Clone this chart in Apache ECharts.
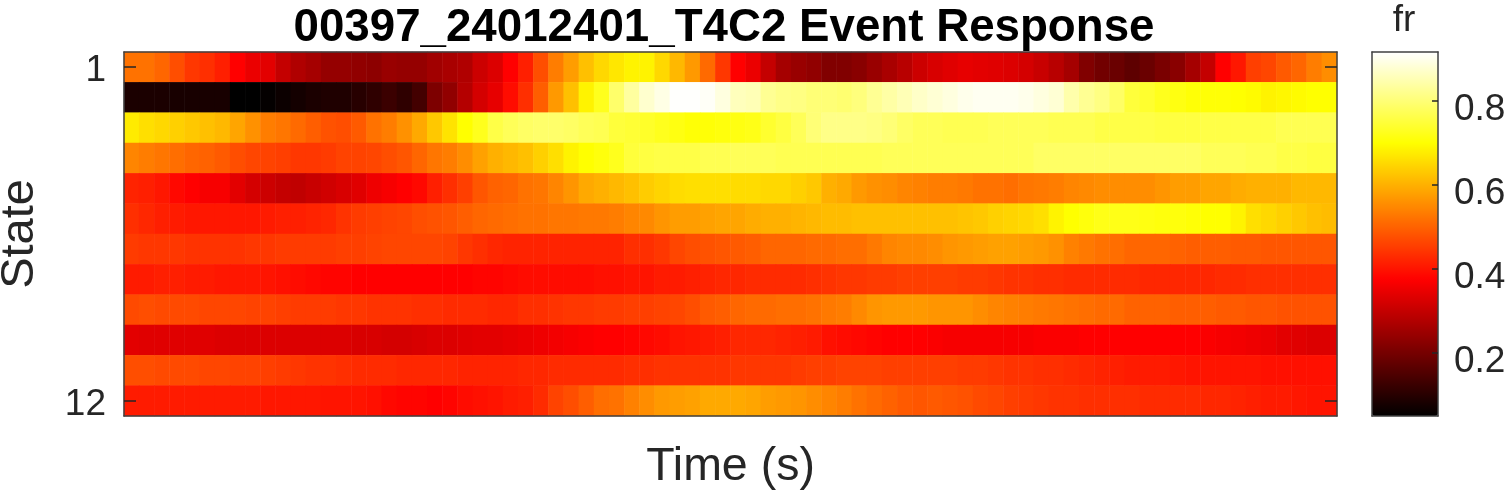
<!DOCTYPE html>
<html><head><meta charset="utf-8">
<style>html,body{margin:0;padding:0;background:#fff}#c{width:1507px;height:492px}</style>
<script src="https://cdn.jsdelivr.net/npm/echarts@6/dist/echarts.min.js"></script>
</head><body><div id="c"></div>
<script>
const stateLabels=['1','2','3','4','5','6','7','8','9','10','11','12'];
const colorbarTicks=[0.2,0.4,0.6,0.8];
const frMin=0.05, frMax=0.917;
const hotColors=['#000000','#550000','#aa0000','#ff0000','#ff5500','#ffaa00','#ffff00','#ffff80','#ffffff'];
const state1=[.52,.52,.505,.475,.445,.435,.415,.375,.35,.34,.30,.275,.26,.24,.24,.235,.23,.245,.24,.24,.255,.265,.275,.31,.33,.375,.415,.475,.535,.575,.62,.65,.67,.685,.685,.65,.61,.57,.51,.445,.375,.35,.30,.26,.245,.235,.215,.215,.225,.245,.265,.285,.31,.325,.335,.345,.34,.335,.33,.32,.305,.285,.26,.215,.195,.185,.17,.185,.205,.225,.26,.30,.375,.405,.455,.465,.49,.505,.535,.555];
const state2=[.085,.085,.085,.08,.08,.08,.08,.05,.05,.055,.065,.075,.085,.09,.09,.10,.11,.125,.11,.135,.21,.235,.28,.32,.345,.39,.435,.495,.57,.62,.685,.725,.79,.835,.875,.895,.915,.915,.91,.89,.86,.855,.825,.815,.81,.80,.80,.795,.805,.825,.84,.855,.87,.88,.89,.90,.905,.905,.905,.90,.89,.88,.845,.825,.81,.785,.75,.74,.725,.715,.705,.705,.705,.70,.695,.685,.69,.695,.70,.70];
const state3=[.675,.66,.65,.64,.63,.62,.61,.585,.56,.535,.525,.51,.495,.48,.475,.49,.52,.535,.56,.59,.63,.665,.70,.725,.76,.775,.785,.79,.79,.785,.775,.77,.75,.745,.735,.725,.715,.705,.705,.71,.715,.72,.74,.755,.775,.80,.815,.815,.815,.81,.80,.785,.775,.775,.77,.77,.77,.775,.775,.775,.775,.77,.77,.77,.76,.76,.76,.76,.755,.755,.755,.76,.76,.76,.76,.76,.77,.77,.77,.77];
const state4=[.545,.535,.525,.515,.505,.50,.49,.475,.465,.46,.455,.445,.445,.45,.46,.46,.465,.475,.485,.505,.525,.535,.555,.58,.60,.61,.62,.64,.66,.685,.70,.71,.725,.75,.755,.76,.76,.76,.77,.77,.775,.775,.775,.77,.77,.77,.77,.77,.77,.77,.775,.775,.775,.775,.775,.775,.775,.775,.775,.775,.785,.785,.785,.785,.785,.785,.785,.785,.785,.785,.785,.775,.775,.775,.77,.77,.76,.76,.755,.755];
const state5=[.42,.415,.405,.385,.375,.365,.365,.34,.32,.31,.30,.295,.305,.315,.325,.335,.355,.365,.375,.385,.415,.435,.455,.485,.50,.505,.52,.525,.545,.565,.59,.60,.61,.62,.635,.645,.655,.66,.66,.66,.655,.655,.65,.65,.64,.63,.60,.59,.57,.56,.555,.545,.54,.535,.535,.53,.52,.52,.515,.525,.53,.535,.545,.55,.555,.555,.555,.555,.565,.575,.575,.585,.585,.595,.60,.60,.60,.61,.61,.61];
const state6=[.435,.425,.415,.41,.405,.405,.405,.405,.405,.41,.415,.415,.42,.425,.44,.45,.455,.46,.465,.475,.48,.485,.495,.505,.51,.515,.52,.52,.525,.525,.53,.53,.535,.545,.55,.565,.575,.575,.58,.585,.585,.595,.60,.60,.605,.61,.615,.615,.62,.62,.62,.62,.62,.62,.62,.625,.63,.64,.645,.65,.66,.685,.70,.71,.72,.72,.72,.715,.71,.71,.705,.70,.70,.685,.66,.65,.64,.63,.62,.615];
const state7=[.45,.445,.445,.445,.44,.44,.44,.44,.445,.445,.45,.45,.45,.45,.455,.455,.46,.465,.465,.465,.465,.46,.445,.435,.425,.42,.42,.42,.42,.42,.42,.42,.42,.435,.435,.445,.465,.475,.48,.485,.49,.495,.505,.505,.505,.51,.51,.515,.515,.53,.545,.55,.55,.555,.565,.57,.575,.58,.58,.575,.57,.56,.54,.53,.52,.515,.505,.505,.505,.50,.495,.495,.495,.49,.49,.485,.485,.485,.485,.485];
const state8=[.41,.41,.415,.415,.41,.41,.405,.405,.405,.40,.395,.39,.385,.38,.38,.375,.375,.375,.375,.375,.375,.375,.375,.38,.38,.385,.39,.39,.39,.39,.39,.395,.395,.40,.40,.41,.41,.415,.42,.425,.425,.43,.43,.43,.43,.435,.44,.445,.445,.45,.45,.455,.455,.455,.455,.45,.45,.445,.44,.44,.435,.435,.43,.43,.43,.43,.43,.425,.425,.425,.425,.425,.43,.43,.435,.435,.435,.435,.435,.435];
const state9=[.47,.475,.47,.47,.47,.465,.465,.465,.46,.46,.455,.45,.45,.45,.445,.445,.44,.44,.44,.435,.435,.43,.43,.43,.425,.425,.435,.435,.44,.445,.445,.45,.45,.455,.455,.46,.465,.475,.49,.495,.505,.51,.51,.515,.515,.52,.53,.535,.55,.565,.57,.57,.57,.565,.565,.565,.555,.545,.54,.535,.53,.525,.52,.515,.51,.51,.50,.50,.50,.495,.495,.495,.49,.49,.485,.485,.48,.48,.48,.48];
const state10=[.34,.335,.335,.335,.335,.335,.33,.33,.33,.33,.33,.33,.33,.33,.33,.325,.325,.32,.32,.325,.33,.33,.335,.34,.34,.345,.35,.355,.36,.365,.37,.375,.375,.38,.385,.39,.40,.405,.41,.415,.425,.425,.425,.42,.415,.41,.395,.39,.385,.38,.375,.375,.375,.37,.365,.365,.365,.365,.365,.365,.37,.37,.37,.375,.375,.375,.375,.375,.375,.375,.375,.37,.365,.36,.355,.35,.34,.335,.33,.33];
const state11=[.475,.475,.47,.47,.47,.465,.465,.46,.46,.455,.45,.445,.44,.44,.435,.43,.43,.43,.425,.425,.425,.425,.42,.42,.42,.42,.425,.425,.43,.43,.43,.43,.43,.435,.435,.44,.44,.44,.44,.44,.445,.445,.445,.445,.45,.455,.455,.46,.46,.46,.455,.455,.455,.455,.455,.45,.45,.445,.44,.44,.435,.435,.43,.425,.42,.415,.41,.41,.41,.405,.40,.40,.40,.40,.40,.395,.395,.395,.395,.395];
const state12=[.41,.41,.41,.41,.41,.41,.41,.41,.41,.405,.405,.405,.405,.40,.40,.40,.395,.385,.38,.38,.375,.38,.39,.395,.40,.41,.415,.43,.46,.475,.495,.515,.52,.54,.555,.57,.575,.58,.59,.59,.59,.585,.575,.57,.565,.555,.545,.535,.52,.51,.50,.49,.485,.49,.485,.48,.47,.465,.455,.45,.445,.44,.44,.435,.435,.435,.435,.43,.43,.43,.43,.425,.425,.42,.415,.41,.41,.405,.40,.40];
const rows=[state1,state2,state3,state4,state5,state6,state7,state8,state9,state10,state11,state12];
const timeBins=state1.map((_,i)=>String(i));
const cells=[];
rows.forEach((r,y)=>r.forEach((v,x)=>cells.push([x,y,v])));

const INK='#262626';
const FONT='"Liberation Sans",Arial,sans-serif';
const frame={lineStyle:{color:'#404040',width:1.5}};
const chart=echarts.init(document.getElementById('c'),null,{renderer:'canvas'});
chart.setOption({
  animation:false,
  backgroundColor:'#fff',
  textStyle:{fontFamily:FONT},
  title:[
    {text:'00397_24012401_T4C2 Event Response',left:724,top:5,padding:0,textAlign:'center',
     textStyle:{fontFamily:FONT,fontWeight:'bold',fontSize:45.7,color:'#000'}},
    {text:'fr',left:1404,top:2,padding:0,textAlign:'center',
     textStyle:{fontFamily:FONT,fontWeight:'normal',fontSize:37,color:INK}}
  ],
  grid:[
    {left:124,top:52,width:1213,height:364,outerBoundsMode:'none'},
    {left:1372,top:52,width:66,height:364,outerBoundsMode:'none'}
  ],
  xAxis:[
    {type:'category',gridIndex:0,data:timeBins,position:'bottom',z:6,
     name:'Time (s)',nameLocation:'middle',nameGap:28,
     nameTextStyle:{fontFamily:FONT,fontSize:46.5,color:INK},
     axisLine:{show:true,onZero:false,...frame},axisTick:{show:false},axisLabel:{show:false},splitLine:{show:false}},
    {type:'category',gridIndex:0,data:timeBins,position:'top',z:6,
     axisLine:{show:true,onZero:false,...frame},axisTick:{show:false},axisLabel:{show:false},splitLine:{show:false}},
    {type:'value',gridIndex:1,min:0,max:1,position:'bottom',z:6,
     axisLine:{show:true,onZero:false,...frame},axisTick:{show:false},axisLabel:{show:false},splitLine:{show:false}},
    {type:'value',gridIndex:1,min:0,max:1,position:'top',z:6,
     axisLine:{show:true,onZero:false,...frame},axisTick:{show:false},axisLabel:{show:false},splitLine:{show:false}}
  ],
  yAxis:[
    {type:'category',gridIndex:0,data:stateLabels,inverse:true,position:'left',z:6,
     name:'State',nameLocation:'middle',nameGap:80,nameRotate:90,
     nameTextStyle:{fontFamily:FONT,fontSize:47,color:INK},
     axisLine:{show:true,onZero:false,...frame},
     axisTick:{show:true,inside:true,length:12,alignWithLabel:true,interval:(i)=>i===0||i===11,lineStyle:{color:INK,width:1.5}},
     axisLabel:{show:true,interval:(i)=>i===0||i===11,fontFamily:FONT,fontSize:37,color:INK,margin:18,verticalAlign:'top',lineHeight:8},
     splitLine:{show:false}},
    {type:'category',gridIndex:0,data:stateLabels,inverse:true,position:'right',z:6,
     axisLine:{show:true,onZero:false,...frame},
     axisTick:{show:true,inside:true,length:12,alignWithLabel:true,interval:(i)=>i===0||i===11,lineStyle:{color:INK,width:1.5}},
     axisLabel:{show:false},splitLine:{show:false}},
    {type:'value',gridIndex:1,min:frMin,max:frMax,position:'right',z:6,
     axisLine:{show:true,onZero:false,...frame},
     axisTick:{show:true,inside:true,length:6,customValues:colorbarTicks,lineStyle:{color:INK,width:1.5}},
     axisLabel:{show:true,customValues:colorbarTicks,formatter:(v)=>v.toFixed(1),fontFamily:FONT,fontSize:37,color:INK,margin:16,verticalAlign:'top',lineHeight:18},
     splitLine:{show:false}},
    {type:'value',gridIndex:1,min:frMin,max:frMax,position:'left',z:6,
     axisLine:{show:true,onZero:false,...frame},axisTick:{show:false},axisLabel:{show:false},splitLine:{show:false}}
  ],
  visualMap:{type:'continuous',min:frMin,max:frMax,seriesIndex:0,calculable:false,realtime:false,
    orient:'vertical',left:1372,top:52,itemWidth:66,itemHeight:364,padding:0,text:null,showLabel:false,
    inRange:{color:hotColors},z:2},
  series:[{type:'heatmap',xAxisIndex:0,yAxisIndex:0,data:cells,progressive:0,itemStyle:{borderWidth:0},emphasis:{disabled:true},z:2}]
});
</script></body></html>
